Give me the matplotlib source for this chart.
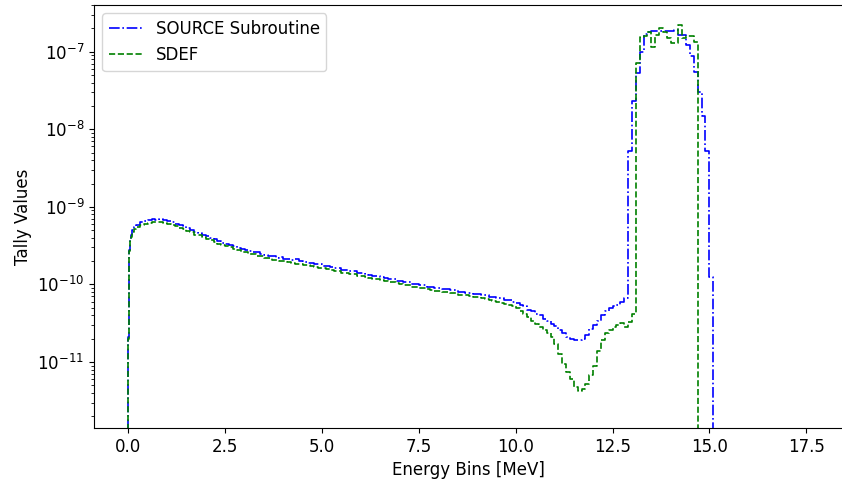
import numpy as np
from matplotlib import pyplot as plt

plt.rcParams['font.size'] = 12

# fine bins near 0 MeV, then 0.1 MeV bins from 0.5 MeV
fine_edges = [0, 0.001, 0.002, 0.003, 0.004, 0.005, 0.006, 0.008, 0.01, 0.0125,
              0.015, 0.02, 0.025, 0.03, 0.04, 0.05, 0.07, 0.1, 0.15, 0.2, 0.3, 0.4, 0.5]

# tally values in units of 1e-10
source_fine = [0.026, 0.058, 0.094, 0.16, 0.21, 0.30, 0.47, 0.63, 0.88, 1.25, 1.7,
               2.1, 2.5, 2.8, 3.3, 3.8, 4.4, 5.0, 5.5, 5.9, 6.3, 6.5]
sdef_fine = [0.025, 0.055, 0.09, 0.15, 0.20, 0.28, 0.45, 0.60, 0.85, 1.2, 1.6,
             2.0, 2.4, 2.7, 3.1, 3.6, 4.1, 4.7, 5.2, 5.5, 5.9, 6.1]

source_coarse = [
    6.7, 6.9, 6.8, 6.9, 6.7,                                        # 0.5-0.9
    6.6, 6.3, 6.1, 5.8, 5.6, 5.3, 5.1, 4.8, 4.6, 4.4,               # 1.x
    4.2, 4.0, 3.8, 3.6, 3.45, 3.3, 3.2, 3.1, 2.95, 2.9,             # 2.x
    2.75, 2.72, 2.6, 2.58, 2.45, 2.42, 2.35, 2.3, 2.2, 2.28,        # 3.x
    2.15, 2.12, 2.05, 2.1, 1.98, 1.96, 1.9, 1.9, 1.82, 1.81,        # 4.x
    1.75, 1.72, 1.68, 1.63, 1.61, 1.55, 1.53, 1.48, 1.47, 1.42,     # 5.x
    1.39, 1.35, 1.33, 1.3, 1.28, 1.24, 1.22, 1.18, 1.16, 1.12,      # 6.x
    1.11, 1.08, 1.06, 1.02, 1.01, 0.98, 0.97, 0.94, 0.93, 0.9,      # 7.x
    0.9, 0.87, 0.87, 0.84, 0.84, 0.81, 0.81, 0.78, 0.78, 0.75,      # 8.x
    0.75, 0.72, 0.72, 0.69, 0.69, 0.67, 0.66, 0.63, 0.63, 0.6,      # 9.x
    0.58, 0.55, 0.52, 0.47, 0.45, 0.41, 0.4, 0.36, 0.34, 0.31,      # 10.x
    0.29, 0.26, 0.24, 0.21, 0.2, 0.195, 0.195, 0.2, 0.22, 0.27,     # 11.x
    0.3, 0.34, 0.4, 0.46, 0.49, 0.52, 0.55, 0.6, 0.66, 53,          # 12.x
    230, 530, 1000, 1700, 1800, 1850, 1850, 1870, 1850, 1860,       # 13.x
    1840, 1900, 1650, 1640, 1220, 880, 550, 305, 150, 52,           # 14.x
    1.26, 0,                                                        # 15.0-15.1
]

sdef_coarse = [
    6.2, 6.4, 6.3, 6.4, 6.2,
    6.1, 5.8, 5.7, 5.4, 5.2, 4.9, 4.8, 4.4, 4.3, 4.05,
    3.9, 3.7, 3.55, 3.35, 3.25, 3.1, 3.0, 2.85, 2.8, 2.65,
    2.6, 2.5, 2.45, 2.35, 2.3, 2.2, 2.18, 2.08, 2.05, 2.0,
    1.99, 1.92, 1.9, 1.86, 1.84, 1.78, 1.76, 1.72, 1.69, 1.64,
    1.62, 1.56, 1.55, 1.49, 1.48, 1.42, 1.41, 1.36, 1.35, 1.3,
    1.28, 1.24, 1.22, 1.19, 1.17, 1.14, 1.12, 1.08, 1.07, 1.03,
    1.02, 0.99, 0.97, 0.94, 0.93, 0.9, 0.89, 0.87, 0.86, 0.83,
    0.83, 0.8, 0.8, 0.77, 0.77, 0.74, 0.74, 0.72, 0.71, 0.69,
    0.68, 0.66, 0.65, 0.63, 0.62, 0.6, 0.58, 0.56, 0.54, 0.52,
    0.49, 0.46, 0.42, 0.38, 0.34, 0.31, 0.28, 0.26, 0.24, 0.21,
    0.17, 0.125, 0.095, 0.075, 0.06, 0.048, 0.042, 0.045, 0.052, 0.068,
    0.09, 0.14, 0.19, 0.235, 0.26, 0.285, 0.3, 0.32, 0.28, 0.33,
    0.41, 710, 1560, 1600, 1800, 1140, 1640, 2000, 1800, 1490,
    1280, 1280, 2200, 1490, 1600, 1600, 1350, 0, 0, 0,
    0, 0,
]

def step_xy(vals_fine, vals_coarse):
    vals = np.array(vals_fine + vals_coarse) * 1e-10
    edges = np.concatenate([fine_edges, 0.5 + 0.1 * np.arange(1, len(vals_coarse) + 1)])
    x = np.concatenate([[0.0], edges])
    y = np.concatenate([[0.0], vals, [vals[-1]]])
    return x, y

fig = plt.figure(figsize=(8.42, 4.82), dpi=100)
ax = fig.add_axes([94/842, 54/482, 749/842, 423/482])

x, y = step_xy(source_fine, source_coarse)
ax.step(x, y, where='post', color='b', linestyle='-.', linewidth=1.2, label='SOURCE Subroutine')
x, y = step_xy(sdef_fine, sdef_coarse)
ax.step(x, y, where='post', color='g', linestyle='--', linewidth=1.2, label='SDEF')

ax.set_yscale('log', nonpositive='clip')
ax.set_xlim(-0.886, 18.45)
ax.set_ylim(1.41e-12, 4.0e-7)
ax.set_yticks([1e-11, 1e-10, 1e-9, 1e-8, 1e-7])
ax.set_xticks([0, 2.5, 5, 7.5, 10, 12.5, 15, 17.5])
ax.set_xlabel('Energy Bins [MeV]')
ax.set_ylabel('Tally Values')
ax.legend(loc='upper left')

fig.savefig('out.png', dpi=100)
